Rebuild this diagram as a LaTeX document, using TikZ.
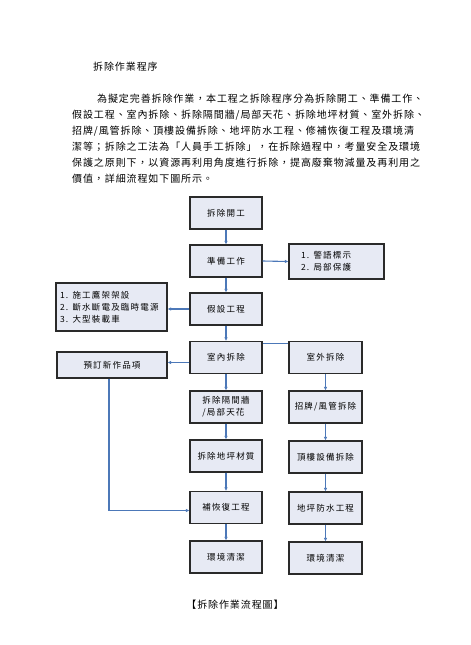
\documentclass[tikz,border=0pt]{standalone}
\usepackage{fontspec}
\setmainfont{Noto Sans CJK TC}
\newfontfamily\paraf[LetterSpace=9]{Noto Sans CJK TC}
\newfontfamily\boxf[LetterSpace=14]{Noto Sans CJK TC}
\usetikzlibrary{arrows.meta}
\definecolor{boxfill}{HTML}{E7EAF4}
\definecolor{boxline}{HTML}{2A2A2A}
\definecolor{arrc}{HTML}{4C78B8}
\tikzset{
  stepbox/.style={draw=boxline, line width=1.2pt, fill=boxfill, minimum width=72pt, minimum height=32pt, inner sep=0pt, font=\boxf\fontsize{8.5}{12}\selectfont},
  listbox/.style={stepbox, align=left, inner sep=4pt},
  arr/.style={draw=arrc, line width=1.1pt, -{Latex[length=3.5pt,width=3.5pt]}},
  plainline/.style={draw=arrc, line width=1.1pt},
  paraline/.style={anchor=base west, inner sep=0pt, font=\paraf\fontsize{10}{12}\selectfont}
}
\begin{document}
\begin{tikzpicture}[x=1pt,y=-1pt]
\useasboundingbox (0,0) rectangle (471,645);
% text
\node[paraline] (title) at (93,70) {拆除作業程序};
\node[paraline] (p1) at (97,102) {為擬定完善拆除作業，本工程之拆除程序分為拆除開工、準備工作、};
\node[paraline] (p2) at (72,118) {假設工程、室內拆除、拆除隔間牆/局部天花、拆除地坪材質、室外拆除、};
\node[paraline] (p3) at (72,134) {招牌/風管拆除、頂樓設備拆除、地坪防水工程、修補恢復工程及環境清};
\node[paraline] (p4) at (72,150) {潔等；拆除之工法為「人員手工拆除」，在拆除過程中，考量安全及環境};
\node[paraline] (p5) at (72,166) {保護之原則下，以資源再利用角度進行拆除，提高廢棄物減量及再利用之};
\node[paraline] (p6) at (72,182) {價值，詳細流程如下圖所示。};
\node[inner sep=0pt, font=\paraf\fontsize{10}{12}\selectfont] (cap) at (235,605) {【拆除作業流程圖】};
% main column
\node[stepbox] (a1) at (226,213) {拆除開工};
\node[stepbox] (a2) at (226,261) {準備工作};
\node[stepbox] (a3) at (226,309) {假設工程};
\node[stepbox] (a4) at (226,357.5) {室內拆除};
\node[stepbox, align=left] (a5) at (226,407) {拆除隔間牆\\/局部天花};
\node[stepbox] (a6) at (226,456) {拆除地坪材質};
\node[stepbox] (a7) at (226,507.5) {補恢復工程};
\node[stepbox] (a8) at (226,557) {環境清潔};
% right column
\node[stepbox, minimum width=73pt] (b1) at (325.5,357.5) {室外拆除};
\node[stepbox, minimum width=73pt] (b2) at (325.5,407) {招牌/風管拆除};
\node[stepbox, minimum width=73pt] (b3) at (325.5,457) {頂樓設備拆除};
\node[stepbox, minimum width=73pt] (b4) at (325.5,508) {地坪防水工程};
\node[stepbox, minimum width=73pt] (b5) at (325.5,558) {環境清潔};
% side boxes
\node[listbox, minimum width=95pt, minimum height=35pt, text width=71pt, inner xsep=12pt] (n1) at (336.5,261.5) {1. 警語標示\\2. 局部保護};
\node[listbox, minimum width=111pt, minimum height=48pt, text width=103pt, inner xsep=4pt] (n2) at (111.5,307) {1. 施工鷹架架設\\2. 斷水斷電及臨時電源\\3. 大型裝載車};
\node[stepbox, minimum width=110pt, minimum height=26pt] (n3) at (112,365) {預訂新作品項};
% connectors
\draw[arr] (a1) -- (a2);
\draw[arr] (a2) -- (a3);
\draw[arr] (a3) -- (a4);
\draw[arr] (a4) -- (a5);
\draw[arr] (a5) -- (a6);
\draw[arr] (a6) -- (a7);
\draw[arr] (a7) -- (a8);
\draw[arr] (b1) -- (b2);
\draw[arr] (b2) -- (b3);
\draw[arr] (b3) -- (b4);
\draw[arr] (b4) -- (b5);
\draw[arr] (a2.east) -- (n1.west);
\draw[arr] (a3.west) -- (a3.west -| n2.east);
\draw[arr] ([yshift=-5pt]a4.west) -- ([yshift=-5pt]a4.west -| n3.east);
\draw[plainline] ([yshift=-3pt]a4.north east) -- ([yshift=-3pt]b1.north west);
\draw[arr] ([xshift=-3pt]n3.south) |- ([yshift=-3pt]a7.west);
\end{tikzpicture}
\end{document}
